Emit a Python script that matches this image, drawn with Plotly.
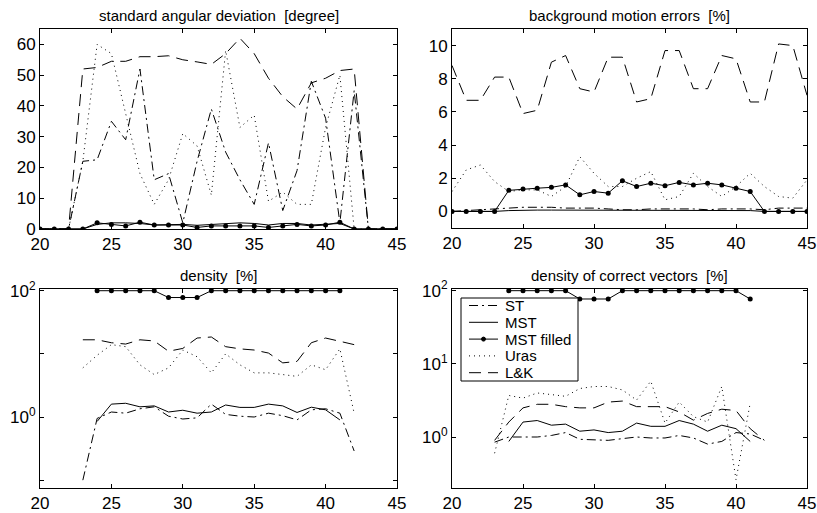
import plotly.graph_objects as go

N = None
x = list(range(20, 46))

# --- standard angular deviation [degree] ---
st_ang   = [0,0,0,22,22.5,35,29,52,16,18,2,22,39,25,16,8,28,6,19,48,36,2,45,0,0,0]
mst_ang  = [0,0,0,0,1.5,2,2,1.8,1.3,1.3,1.5,1.2,1.5,1.8,2,1.8,1.3,1.8,1.8,1.3,1.5,1.8,0,0,0,0]
mstf_ang = [0,0,0,0,2,1.5,1,2.2,1.3,1.3,1.3,0.5,1,1,1,1,0.5,1,1.5,1,1.3,2.2,0,0,0,0]
uras_ang = [0,0,0,22,60,57,38,18,8,16,31,27,11,58,33,37,9,12,8,8,33,50,0,0,0,0]
lk_ang   = [0,0,0,52,52.5,54.5,54.5,56,56,56.3,55,54.3,53.5,57,62,57,49,43,39,47.5,49,51.5,52,0,0,0]

# --- background motion errors [%] ---
st_bg   = [0,0.05,0.1,0.15,0.2,0.25,0.25,0.25,0.2,0.2,0.2,0.15,0.1,0.1,0.15,0.15,0.15,0.15,0.1,0.15,0.15,0.15,0.1,0.2,0.2,0.2]
mst_bg  = [0,0,0,0,0.05,0.08,0.08,0.08,0.08,0.05,0.05,0.05,0.05,0.05,0.05,0.05,0.05,0.05,0.05,0.05,0.05,0.05,0,0,0,0]
mstf_bg = [0,0,0,0,1.27,1.35,1.4,1.45,1.6,1.0,1.2,1.1,1.85,1.5,1.7,1.55,1.75,1.6,1.7,1.6,1.4,1.2,0,0,0,0]
uras_bg = [1.2,2.5,2.8,1.8,1.2,1.3,1.3,0.9,1.5,3.3,2.3,1.5,1.5,2.0,2.4,0.7,0.9,2.3,1.5,0.9,1.5,2.3,1.5,0.9,0.8,1.9]
lk_bg   = [8.8,6.7,6.7,8.1,8.1,5.9,6.1,9.0,9.4,7.4,7.2,9.3,9.3,6.6,6.8,9.7,9.7,7.4,7.4,9.4,9.2,6.6,6.6,10.1,10.0,7.0]

# --- density [%] ---
st_den   = [N,N,N,0.1,0.95,1.2,1.15,1.35,1.45,1.03,0.93,0.97,1.6,1.1,1.03,1.0,1.15,1.05,0.9,1.3,1.35,1.15,0.29,N,N,N]
mst_den  = [N,N,N,N,0.85,1.6,1.65,1.45,1.5,1.2,1.28,1.15,1.2,1.55,1.42,1.42,1.6,1.5,1.18,1.43,1.3,0.9,N,N,N,N]
mstf_den = [N,N,N,N,100,100,100,100,100,78,78,78,100,100,100,100,100,100,100,100,100,100,N,N,N,N]
uras_den = [N,N,N,6.0,9.5,14,13,6.7,4.7,6.0,11.5,9,5,10,6.7,5,5,4.7,4.4,6.7,5.6,12,1.15,N,N,N]
lk_den   = [N,N,N,16.7,16.7,15,14.3,16.7,16,11,12.2,17.8,18.5,13,12,11.5,10.3,7.2,7.6,15,17.8,15.8,14,N,N,N]

# --- density of correct vectors [%] ---
st_cor   = [N,N,N,0.85,1.0,1.0,1.0,1.05,1.15,0.93,0.92,0.9,0.95,1.0,0.97,0.97,1.05,0.97,0.8,0.87,1.15,1.1,0.9,N,N,N]
mst_cor  = [N,N,N,N,0.87,1.6,1.68,1.45,1.5,1.2,1.25,1.15,1.2,1.55,1.4,1.4,1.68,1.5,1.2,1.45,1.3,0.87,N,N,N,N]
mstf_cor = [N,N,N,N,100,100,100,100,100,77,77,77,100,100,100,100,100,100,100,100,100,77,N,N,N,N]
uras_cor = [N,N,N,0.6,3.7,3.4,4.0,3.8,3.6,4.6,4.9,4.9,4.4,3.2,5.8,1.55,3.0,1.9,1.6,4.9,0.26,2.9,N,N,N,N]
lk_cor   = [N,N,N,0.9,1.6,2.5,2.8,2.8,2.6,2.5,2.5,3.0,3.1,2.6,2.6,2.6,2.2,1.7,2.1,2.4,2.3,1.3,0.9,N,N,N]

titles = ["standard angular deviation \u00a0[degree]", "background motion errors \u00a0[%]",
          "density \u00a0[%]", "density of correct vectors \u00a0[%]"]
names = ["ST", "MST", "MST filled", "Uras", "L&K"]
dashes = ["9px,4px,2px,4px", "solid", "solid", "1px,4px", "12px,7px"]

panels = [
    (st_ang, mst_ang, mstf_ang, uras_ang, lk_ang),
    (st_bg, mst_bg, mstf_bg, uras_bg, lk_bg),
    (st_den, mst_den, mstf_den, uras_den, lk_den),
    (st_cor, mst_cor, mstf_cor, uras_cor, lk_cor),
]

W, H = 817, 513
boxes = [(40, 397, 29, 229), (452, 807, 29, 228), (40, 397, 289, 488), (452, 807, 289, 488)]

fig = go.Figure()
FONT = "Liberation Sans, Arial, sans-serif"

for i, (series, (x0, x1, y0, y1)) in enumerate(zip(panels, boxes)):
    k = "" if i == 0 else str(i + 1)
    for j, (ys, nm, ds) in enumerate(zip(series, names, dashes)):
        fig.add_trace(go.Scatter(
            x=x, y=ys, name=nm, xaxis="x" + k, yaxis="y" + k,
            mode="lines+markers" if j == 2 else "lines",
            line=dict(color="black", width=1, dash=ds),
            marker=dict(color="black", size=5, symbol="circle"),
            connectgaps=False, showlegend=False))
    xd = [x0 / W, x1 / W]
    yd = [1 - y1 / H, 1 - y0 / H]
    axcommon = dict(showline=True, linecolor="black", linewidth=1, mirror="ticks",
                    ticks="inside", ticklen=4, tickcolor="black", showgrid=False,
                    zeroline=False, automargin=False,
                    tickfont=dict(family=FONT, size=17, color="black"))
    fig.layout["xaxis" + k] = dict(domain=xd, anchor="y" + k, range=[20, 45],
                                   tickvals=[20, 25, 30, 35, 40, 45], **axcommon)
    if i == 0:
        ya = dict(range=[0, 65], tickvals=[0, 10, 20, 30, 40, 50, 60])
    elif i == 1:
        ya = dict(range=[-1, 11], tickvals=[0, 2, 4, 6, 8, 10])
    elif i == 2:
        ya = dict(type="log", range=[-1.124, 2.027], tickvals=[0.1, 1, 10, 100],
                  ticktext=["", "10<sup>0</sup>", "", "10<sup>2</sup>"])
    else:
        ya = dict(type="log", range=[-0.697, 2.023], tickvals=[1, 10, 100],
                  ticktext=["10<sup>0</sup>", "10<sup>1</sup>", "10<sup>2</sup>"])
    fig.layout["yaxis" + k] = dict(domain=yd, anchor="x" + k, **ya, **axcommon)
    fig.add_annotation(text=titles[i], xref="paper", yref="paper",
                       x=(xd[0] + xd[1]) / 2, y=yd[1], xanchor="center", yanchor="bottom",
                       yshift=3, showarrow=False,
                       font=dict(family=FONT, size=15, color="black"))

# legend box drawn inside the bottom-right panel (paper coords)
lx0, lx1, ly0, ly1 = 461, 578, 298, 381
fig.add_shape(type="rect", xref="paper", yref="paper",
              x0=lx0 / W, x1=lx1 / W, y0=1 - ly1 / H, y1=1 - ly0 / H,
              line=dict(color="black", width=1), fillcolor="white", layer="above")
for j, (nm, ds) in enumerate(zip(names, dashes)):
    yc = 305.5 + j * 16.8
    fig.add_shape(type="line", xref="paper", yref="paper",
                  x0=469 / W, x1=498 / W, y0=1 - yc / H, y1=1 - yc / H,
                  line=dict(color="black", width=1, dash=ds), layer="above")
    if j == 2:
        fig.add_shape(type="circle", xref="paper", yref="paper",
                      x0=481.5 / W, x1=485.5 / W, y0=1 - (yc + 2) / H, y1=1 - (yc - 2) / H,
                      line=dict(color="black", width=1), fillcolor="black", layer="above")
    fig.add_annotation(text=nm, xref="paper", yref="paper", x=503 / W, y=1 - yc / H,
                       xanchor="left", yanchor="middle", showarrow=False,
                       font=dict(family=FONT, size=15, color="black"))

fig.update_layout(
    width=W, height=H, margin=dict(l=0, r=0, t=0, b=0, autoexpand=False),
    paper_bgcolor="white", plot_bgcolor="white", showlegend=False,
)

fig.write_html("out.html", config={"displayModeBar": False},
               post_script="document.body.style.margin='0';document.body.style.overflow='hidden';")
